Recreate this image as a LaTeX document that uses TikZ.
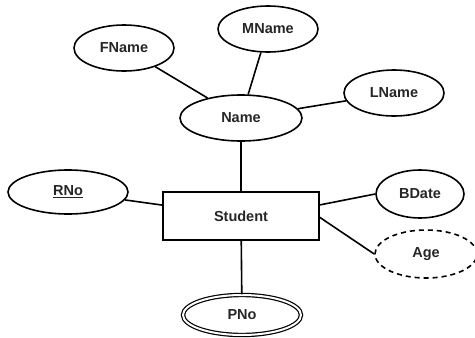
\documentclass[tikz,border=0pt]{standalone}
\usepackage{fontspec}
\setmainfont{Liberation Sans}
\usetikzlibrary{shapes.geometric}
\begin{document}
\begin{tikzpicture}[x=1pt,y=-1pt,
  lbl/.style={font=\bfseries\fontsize{14.5}{15}\selectfont, text=black!85},
  attr/.style={ellipse, draw, line width=1.6pt, inner sep=0pt, minimum width=100pt, minimum height=46pt, lbl},
  ent/.style={rectangle, draw, line width=1.6pt, inner sep=0pt, minimum width=156pt, minimum height=48pt, lbl},
  derived/.style={attr, dash pattern=on 5pt off 4pt},
  multi/.style={attr, double, line width=1.2pt, double distance=2pt},
  conn/.style={line width=1.6pt}]
\useasboundingbox (0,0) rectangle (475,338);
\node[attr] (FName) at (124,48) {FName};
\node[attr] (MName) at (268,29) {MName};
\node[attr] (LName) at (394,93) {LName};
\node[attr, minimum width=122pt] (Name) at (241,118) {Name};
\node[attr, minimum width=120pt, minimum height=44pt] (RNo) at (68,192) {\underline{RNo}};
\node[ent] (Student) at (241,216) {Student};
\node[attr, minimum width=88pt, minimum height=48pt] (BDate) at (420,194) {BDate};
\node[derived, minimum width=102pt, minimum height=48pt] (Age) at (426,254) {Age};
\node[multi, minimum width=118pt, minimum height=40pt] (PNo) at (242,315) {PNo};
\draw[conn] (FName) -- (Name);
\draw[conn] (MName) -- (Name);
\draw[conn] (Name) -- (LName);
\draw[conn] (Name) -- (Student);
\draw[conn] (RNo) -- (Student);
\draw[conn] (Student.8.7) -- (BDate.west);
\draw[conn] (Student.-1.5) -- (Age.west);
\draw[conn] (Student) -- (PNo);
\end{tikzpicture}
\end{document}
